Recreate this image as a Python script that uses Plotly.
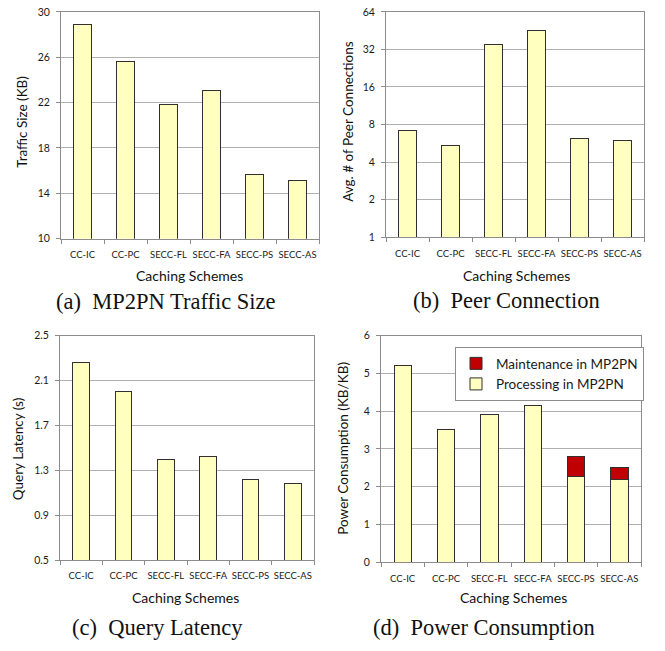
import plotly.graph_objects as go
import math

schemes = ["CC-IC", "CC-PC", "SECC-FL", "SECC-FA", "SECC-PS", "SECC-AS"]
traffic_kb = [28.9, 25.6, 21.8, 23.1, 15.7, 15.1]
peer_conn = [7.1, 5.4, 35.0, 45.6, 6.2, 6.0]
latency_s = [2.26, 2.00, 1.40, 1.42, 1.22, 1.18]
power_processing = [5.2, 3.52, 3.9, 4.14, 2.28, 2.19]
power_maintenance = [0, 0, 0, 0, 0.52, 0.31]

traffic_ticks = [10, 14, 18, 22, 26, 30]
peer_ticks = [1, 2, 4, 8, 16, 32, 64]
latency_ticks = [0.5, 0.9, 1.3, 1.7, 2.1, 2.5]
power_ticks = [0, 1, 2, 3, 4, 5, 6]

W, H = 665, 651
FILL = "#FFFFC0"
RED = "#C00000"
EDGE = "#303030"
GRID = "#B0B0B0"
AXC = "#8C8C8C"
SANS = "Lato"
SERIF = "Liberation Serif"

def fx(px):
    return px / W

def fy(py):
    return 1 - py / H

fig = go.Figure()

bar_kw = dict(marker=dict(color=FILL, line=dict(color=EDGE, width=1)), width=0.4)

fig.add_trace(go.Bar(x=schemes, y=traffic_kb, xaxis="x", yaxis="y", showlegend=False, **bar_kw))
fig.add_trace(go.Bar(x=schemes, y=peer_conn, xaxis="x2", yaxis="y2", showlegend=False, **bar_kw))
fig.add_trace(go.Bar(x=schemes, y=latency_s, xaxis="x3", yaxis="y3", showlegend=False, **bar_kw))
fig.add_trace(go.Bar(x=schemes, y=power_processing, xaxis="x4", yaxis="y4", name="Processing in MP2PN",
                     showlegend=True, **bar_kw))
fig.add_trace(go.Bar(x=schemes, y=power_maintenance, xaxis="x4", yaxis="y4", name="Maintenance in MP2PN",
                     showlegend=True, marker=dict(color=RED, line=dict(color=EDGE, width=1)), width=0.4))

def xaxis(dom, anchor):
    return dict(domain=dom, anchor=anchor, type="category", showgrid=False,
                showline=True, linecolor=AXC, linewidth=1, mirror=True,
                ticks="outside", tickson="boundaries", ticklen=4, tickcolor=AXC,
                ticklabelstandoff=7, tickangle=0,
                tickfont=dict(family=SANS, size=9.5, color="#1a1a1a"), fixedrange=True)

def yaxis(dom, anchor, rng, ticks, typ="linear"):
    d = dict(domain=dom, anchor=anchor, range=rng, tickvals=ticks, ticktext=[str(t) for t in ticks],
             showgrid=True, gridcolor=GRID, gridwidth=1,
             showline=True, linecolor=AXC, linewidth=1, mirror=True,
             ticks="outside", ticklen=4, tickcolor=AXC, ticklabelstandoff=4,
             zeroline=False,
             tickfont=dict(family=SANS, size=10.5, color="#1a1a1a"), fixedrange=True)
    if typ == "log":
        d["type"] = "log"
    return d

fig.update_layout(
    width=W, height=H,
    margin=dict(l=0, r=0, t=0, b=0),
    paper_bgcolor="white", plot_bgcolor="white",
    barmode="stack",
    font=dict(family=SANS, color="#1a1a1a"),
    xaxis=xaxis([fx(61), fx(319)], "y"),
    yaxis=yaxis([fy(237), fy(6)], "x", [10, 30], traffic_ticks),
    xaxis2=xaxis([fx(386), fx(644)], "y2"),
    yaxis2=yaxis([fy(235.5), fy(6)], "x2", [0, math.log10(64)], peer_ticks, "log"),
    xaxis3=xaxis([fx(60), fx(314)], "y3"),
    yaxis3=yaxis([fy(564.5), fy(335.7)], "x3", [0.5, 2.5], latency_ticks),
    xaxis4=xaxis([fx(381), fx(641)], "y4"),
    yaxis4=yaxis([fy(566.7), fy(335.7)], "x4", [0, 6], power_ticks),
    legend=dict(x=fx(455), y=fy(347.5), xanchor="left", yanchor="top",
                traceorder="reversed", bgcolor="white", bordercolor=AXC, borderwidth=1,
                font=dict(family=SANS, size=13.5, color="#1a1a1a"),
                itemwidth=30, tracegroupgap=0),
)

annotations = []

def ann(text, x, y, size, family=SANS, angle=0):
    annotations.append(dict(text=text, x=fx(x), y=fy(y), xref="paper", yref="paper",
                            xanchor="center", yanchor="middle", showarrow=False,
                            textangle=angle, font=dict(family=family, size=size, color="#111111")))

# axis titles
ann("Traffic Size (KB)", 22, 118, 13.5, angle=-90)
ann("Avg. # of Peer Connections", 348, 118, 13.5, angle=-90)
ann("Query Latency (s)", 17.5, 452, 13.5, angle=-90)
ann("Power Consumption (KB/KB)", 343, 451, 13.5, angle=-90)
ann("Caching Schemes", 189, 275, 14)
ann("Caching Schemes", 516, 275, 14)
ann("Caching Schemes", 186, 603, 14)
ann("Caching Schemes", 513, 603, 14)
# captions
ann("(a)  MP2PN Traffic Size", 165.5, 301, 22.5, SERIF)
ann("(b)  Peer Connection", 506.5, 300, 22.5, SERIF)
ann("(c)  Query Latency", 157, 633, 22.5, SERIF)
ann("(d)  Power Consumption", 484, 633, 22.5, SERIF)

fig.update_layout(annotations=annotations)

fig.write_html("out.html")
